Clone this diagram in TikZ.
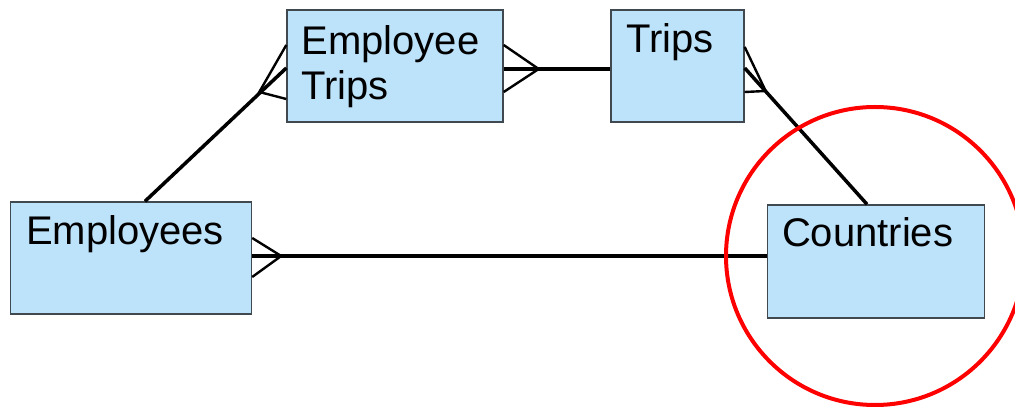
\documentclass[tikz,border=0pt]{standalone}
\usepackage{fontspec}
\setmainfont{Liberation Sans}
\usetikzlibrary{calc}
\definecolor{entityfill}{RGB}{189,227,251}
\definecolor{entityline}{RGB}{64,72,80}
\tikzset{
  entity/.style={draw=entityline, fill=entityfill, line width=1.4pt, inner sep=0pt},
  etext/.style={anchor=base west, inner sep=0pt, align=left,
    font=\fontsize{40}{45}\selectfont},
  rel/.style={line width=3.5pt, line cap=butt},
  prong/.style={line width=2.4pt},
}
\begin{document}
\begin{tikzpicture}[x=1pt,y=-1pt]
\useasboundingbox (0,0) rectangle (1015,411);

% entities
\node[entity, minimum width=216pt, minimum height=112pt] (et)  at (395,66)    {};
\node[entity, minimum width=133pt, minimum height=112pt] (tr)  at (677.5,66)  {};
\node[entity, minimum width=241pt, minimum height=112pt] (emp) at (131,258)   {};
\node[entity, minimum width=217pt, minimum height=113pt] (cou) at (876,261.5) {};

% entity names (base anchor sits on the last line)
\node[etext] (etT)  at ($(et.north west)+(15,90)$)  {Employee\\Trips};
\node[etext] (trT)  at ($(tr.north west)+(16,43)$)  {Trips};
\node[etext] (empT) at ($(emp.north west)+(16,43)$) {Employees};
\node[etext] (couT) at ($(cou.north west)+(15,42)$) {Countries};

% Employees -- Employee Trips (many at Employee Trips)
\coordinate (f1) at ($(et.west)+(-27,26)$);
\draw[rel] ($(emp.north)+(14,0)$) -- ($(et.west)+(0,2)$);
\draw[prong] ($(et.west)+(0,-21)$) -- (f1) -- ($(et.west)+(0,33)$);

% Employee Trips -- Trips (many at Employee Trips)
\coordinate (f2) at ($(et.east)+(35,3)$);
\draw[rel] ($(et.east)+(0,3)$) -- ($(tr.west)+(0,3)$);
\draw[prong] ($(et.east)+(0,-21)$) -- (f2) -- ($(et.east)+(0,26)$);

% Trips -- Countries (many at Trips)
\coordinate (f3) at ($(tr.east)+(21,25)$);
\draw[rel] ($(cou.north)+(-9,0)$) -- ($(tr.east)+(0,2)$);
\draw[prong] ($(tr.east)+(0,-19)$) -- (f3) -- ($(tr.east)+(0,26)$);

% Employees -- Countries (many at Employees)
\coordinate (f4) at ($(emp.east)+(29,-2)$);
\draw[rel] ($(emp.east)+(0,-2)$) -- ($(cou.west)+(0,-5.5)$);
\draw[prong] ($(emp.east)+(0,-20)$) -- (f4) -- ($(emp.east)+(0,19)$);

% highlight
\draw[red, line width=4pt] (cou.center) ++(-1,-5.5) circle[radius=149];
\end{tikzpicture}
\end{document}
